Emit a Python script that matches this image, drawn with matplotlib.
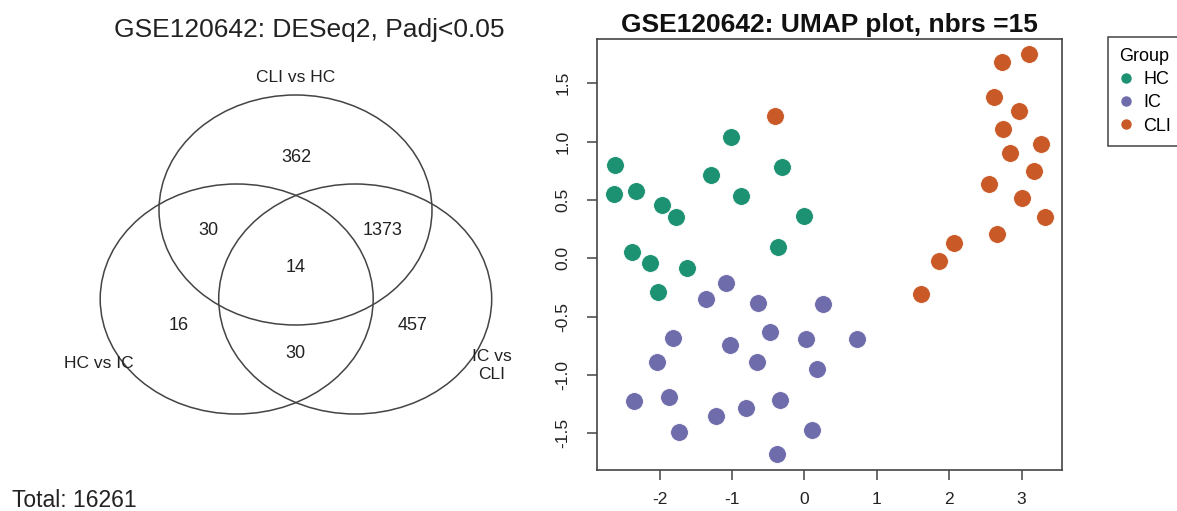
import numpy as np
import matplotlib.pyplot as plt
from matplotlib.patches import Ellipse
from matplotlib.lines import Line2D

plt.rcParams['font.family'] = ['Liberation Sans', 'DejaVu Sans']
plt.rcParams['axes.unicode_minus'] = False

## Venn diagram data ##
venn_title = "GSE120642: DESeq2, Padj<0.05"
set_names = ["CLI vs HC", "HC vs IC", "IC vs\nCLI"]
# regions: CLI only, CLI&HCIC, CLI&ICCLI, all three, HCIC only, HCIC&ICCLI, ICCLI only
region_counts = [362, 30, 1373, 14, 16, 30, 457]
total_genes = 16261

## UMAP data ##
umap_title = "GSE120642: UMAP plot, nbrs =15"
groups = ["HC", "IC", "CLI"]
hc_x = [-2.62, -2.63, -2.33, -1.97, -1.78, -1.29, -1.02, -0.87, -0.31, -0.01,
        -0.37, -2.38, -2.14, -1.62, -2.02]
hc_y = [0.80, 0.55, 0.58, 0.46, 0.35, 0.71, 1.04, 0.53, 0.78, 0.36,
        0.10, 0.05, -0.04, -0.08, -0.29]
ic_x = [-1.09, -1.36, -0.64, 0.25, -1.81, -0.47, 0.02, 0.72, -1.03, -2.03,
        -0.66, 0.17, -2.36, -1.87, -0.34, -0.81, -1.22, -1.73, 0.11, -0.38]
ic_y = [-0.21, -0.35, -0.38, -0.39, -0.68, -0.63, -0.69, -0.69, -0.74, -0.89,
        -0.89, -0.95, -1.22, -1.19, -1.21, -1.28, -1.35, -1.49, -1.47, -1.68]
cli_x = [3.10, 2.73, 2.62, 2.96, 2.74, 3.27, 2.84, 3.17, 2.55, 3.01,
         3.32, 2.66, 2.06, 1.86, 1.61, -0.41]
cli_y = [1.75, 1.68, 1.38, 1.26, 1.11, 0.98, 0.90, 0.75, 0.64, 0.52,
         0.35, 0.21, 0.13, -0.02, -0.31, 1.22]
group_colors = ["#1c9273", "#6f6cab", "#c95a28"]

W, H = 1177, 511
fig = plt.figure(figsize=(W / 100, H / 100), dpi=100)

## Venn panel (axes in pixel units) ##
axv = fig.add_axes([0, 0, 540 / W, 1])
axv.set_xlim(0, 540)
axv.set_ylim(H, 0)
axv.axis('off')

centers = [(295.5, 210), (236.7, 299), (355.2, 299)]
for c in centers:
    axv.add_patch(Ellipse(c, 273, 230, fill=False, lw=1.1, edgecolor='#444444'))

count_pos = [(296.6, 157), (208.6, 230.3), (382.8, 230.3), (295.5, 267.2),
             (178.6, 325.9), (295.5, 353.4), (412.8, 325.9)]
for (px, py), n in zip(count_pos, region_counts):
    axv.text(px, py, str(n), ha='center', va='center', fontsize=13, color='#222222')

name_pos = [(296, 77.6), (99, 363.8), (491.5, 365.5)]
for (px, py), s in zip(name_pos, set_names):
    axv.text(px, py, s, ha='center', va='center', fontsize=12.5, color='#222222',
             linespacing=1.3)

fig.text(309.5 / W, 1 - 37 / H, venn_title, ha='center', va='baseline',
         fontsize=19, color='#222222')
fig.text(12 / W, 1 - 507 / H, "Total: " + str(total_genes), ha='left', va='baseline',
         fontsize=16.5, color='#222222')

## UMAP scatter ##
left, right, top, bottom = 596.7, 1061.7, 39.3, 470
ax = fig.add_axes([left / W, 1 - bottom / H, (right - left) / W, (bottom - top) / H])
for xs, ys, col in zip([hc_x, ic_x, cli_x], [hc_y, ic_y, cli_y], group_colors):
    ax.scatter(xs, ys, s=165, color=col, edgecolors='white', linewidths=0.6, zorder=3)

ax.set_xlim(-2.87, 3.555)
ax.set_ylim(-1.814, 1.877)
ax.set_xticks([-2, -1, 0, 1, 2, 3])
ax.set_yticks([-1.5, -1.0, -0.5, 0.0, 0.5, 1.0, 1.5])
ax.set_yticklabels(["-1.5", "-1.0", "-0.5", "0.0", "0.5", "1.0", "1.5"],
                   rotation=90, va='center')
ax.tick_params(length=7, width=1.1, color='#444444', labelsize=12.5,
               labelcolor='#222222')
ax.tick_params(axis='x', pad=9)
ax.tick_params(axis='y', pad=12)
for sp in ax.spines.values():
    sp.set_linewidth(1.2)
    sp.set_color('#444444')

fig.text((left + right) / 2 / W, 1 - 32 / H, umap_title, ha='center', va='baseline',
         fontsize=19, fontweight='bold', color='#111111')

handles = [Line2D([], [], marker='o', ls='', color=c, markersize=6.5) for c in group_colors]
leg = fig.legend(handles, groups, title="Group", loc='upper left',
                 bbox_to_anchor=(1108 / W, 1 - 37 / H), borderaxespad=0,
                 fontsize=13, title_fontsize=13, fancybox=False, framealpha=1,
                 edgecolor='#444444', handlelength=0.8, handletextpad=0.55,
                 labelspacing=0.35, borderpad=0.6)
leg.get_frame().set_linewidth(1.1)
leg._legend_box.align = "left"

plt.savefig("out.png", dpi=100)
